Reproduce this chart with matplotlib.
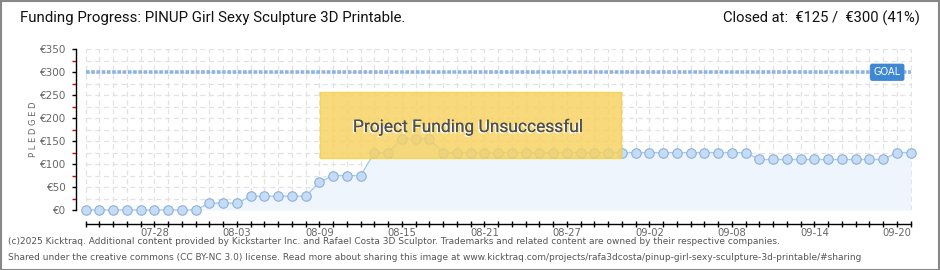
import matplotlib
matplotlib.use("Agg")
import matplotlib.pyplot as plt
import matplotlib.patheffects as pe
from matplotlib.patches import Rectangle
from matplotlib import font_manager
import numpy as np
import pandas as pd

# ---- data ----
dates = pd.date_range("2025-07-23", "2025-09-21", freq="D")
pledged = [0, 0, 0, 0, 0, 0, 0, 0, 0,
           15, 15, 15,
           30, 30, 30, 30, 30,
           60,
           75, 75, 75,
           125, 125,
           155, 155, 155,
           125, 125, 125, 125, 125, 125, 125, 125, 125, 125, 125, 125,
           125, 125, 125, 125, 125, 125, 125, 125, 125, 125, 125,
           110, 110, 110, 110, 110, 110, 110, 110, 110, 110,
           125, 125]
goal = 300
tick_labels = ["07-28", "08-03", "08-09", "08-15", "08-21", "08-27",
               "09-02", "09-08", "09-14", "09-20"]
y_ticks = [0, 50, 100, 150, 200, 250, 300, 350]
y_tick_labels = ["€0", "€50", "€100", "€150", "€200", "€250", "€300", "€350"]
title = "Funding Progress: PINUP Girl Sexy Sculpture 3D Printable."
closed_text = "Closed at:  €125 /  €300 (41%)"
banner = "Project Funding Unsuccessful"
footer1 = ("(c)2025 Kicktraq. Additional content provided by Kickstarter Inc. and Rafael Costa 3D Sculptor. "
           "Trademarks and related content are owned by their respective companies.")
footer2 = ("Shared under the creative commons (CC BY-NC 3.0) license. Read more about sharing this image at "
           "www.kicktraq.com/projects/rafa3dcosta/pinup-girl-sexy-sculpture-3d-printable/#sharing")

names = {f.name for f in font_manager.fontManager.ttflist}
def pick(*cands):
    for c in cands:
        if c in names:
            return c
    return "DejaVu Sans"
narrow = pick("Liberation Sans Narrow", "DejaVu Sans Condensed", "Roboto", "Open Sans")
small = pick("DejaVu Sans Condensed", "Liberation Sans Narrow", "DejaVu Sans")

x = np.arange(len(dates))
label_pos = [i for i, d in enumerate(dates) if d.strftime("%m-%d") in tick_labels]

W, H = 940, 270
fig = plt.figure(figsize=(W / 100, H / 100), dpi=100)
fig.patch.set_facecolor("white")

L, R, T, B = 76, 912, 49.3, 210
ax = fig.add_axes([L / W, 1 - B / H, (R - L) / W, (B - T) / H])
ax.set_facecolor("none")
ax.set_xlim(-0.7, 60.1)
ax.set_ylim(0, 350)

# grid
for yv in range(0, 351, 25):
    ax.hlines(yv, 0, len(x) - 1, colors="#e2e2e2", linestyles=(0, (4, 3)), linewidth=0.9, zorder=0)
for xi in x:
    ax.vlines(xi, 0, 350, colors="#e2e2e2", linestyles=(0, (4, 3)), linewidth=0.9, zorder=0)

# goal line
ax.plot([0, len(x) - 1], [goal, goal], color="#8fb4de", linewidth=2.6,
        linestyle=(0, (1.0, 0.45)), solid_capstyle="butt", zorder=2)

# fill + line
ax.fill_between(x, pledged, 0, color="#eef5fd", zorder=1, linewidth=0)
ax.plot(x, pledged, color="#a9cbef", linewidth=1.0, zorder=3,
        marker="o", markersize=6.8, markerfacecolor="#c4dcf6",
        markeredgecolor="#8eb0d9", markeredgewidth=0.8, clip_on=False)

# spines
for s in ["top", "right"]:
    ax.spines[s].set_visible(False)
ax.spines["left"].set_color("black")
ax.spines["left"].set_linewidth(1.0)
ax.spines["bottom"].set_position(("outward", 10))
ax.spines["bottom"].set_bounds(0, len(x) - 1)
ax.spines["bottom"].set_linewidth(1.0)

ax.set_xticks(label_pos)
ax.set_xticklabels(tick_labels)
ax.set_xticks(x, minor=True)
ax.tick_params(axis="x", which="both", direction="inout", length=4, width=1.0,
               colors="black", labelcolor="#666666", labelsize=7.2, pad=1)
ax.set_yticks(y_ticks)
ax.set_yticklabels(y_tick_labels)
ax.set_yticks(range(25, 350, 50), minor=True)
ax.tick_params(axis="y", which="major", direction="out", length=3, width=1.0,
               colors="black", labelcolor="#666666", labelsize=7.5, pad=4)
ax.tick_params(axis="y", which="minor", direction="out", length=3, width=1.0, colors="#dd0000")
for lab in ax.get_xticklabels() + ax.get_yticklabels():
    lab.set_family(small)

ax.set_ylabel("P L E D G E D", fontsize=6, color="#666666", family=small)
ax.yaxis.set_label_coords(-0.046, 0.5)

# GOAL badge
ax.text(58.3, goal, "GOAL", ha="center", va="center", fontsize=7, color="white",
        family="DejaVu Sans", zorder=6,
        bbox=dict(boxstyle="round,pad=0.3,rounding_size=0.15", facecolor="#3d87d4", edgecolor="#3d87d4"))

# Unsuccessful banner
rx0, rx1 = (320 - L) / (R - L), (621 - L) / (R - L)
ry0, ry1 = (B - 157.7) / (B - T), (B - 92.3) / (B - T)
ax.add_patch(Rectangle((rx0, ry0), rx1 - rx0, ry1 - ry0, transform=ax.transAxes,
                       facecolor="#f7d260", alpha=0.82, edgecolor="#f3d040",
                       linewidth=1.0, zorder=5))
ax.text((468 - L) / (R - L), (B - 127) / (B - T), banner, transform=ax.transAxes,
        ha="center", va="center", fontsize=12.5, color="#505050", family=narrow, zorder=7,
        path_effects=[pe.withSimplePatchShadow(offset=(-1, -1), shadow_rgbFace="white", alpha=1.0),
                      pe.Normal()])

# titles
fig.text(20 / W, 1 - 18 / H, title, ha="left", va="center", fontsize=10.8, color="#111111", family=narrow)
fig.text(920 / W, 1 - 18 / H, closed_text, ha="right", va="center", fontsize=10.6, color="#111111", family=narrow)

# footer
fig.text(8 / W, 1 - 242 / H, footer1, ha="left", va="center", fontsize=6.5, color="#555555", family=small)
fig.text(8 / W, 1 - 257 / H, footer2, ha="left", va="center", fontsize=6.5, color="#555555", family=small)

# border
fig.add_artist(Rectangle((0.5 / W, 0.5 / H), 1 - 1.5 / W, 1 - 1.5 / H, transform=fig.transFigure,
                         fill=False, edgecolor="#888888", linewidth=1.5))

fig.savefig("out.png", dpi=100)
